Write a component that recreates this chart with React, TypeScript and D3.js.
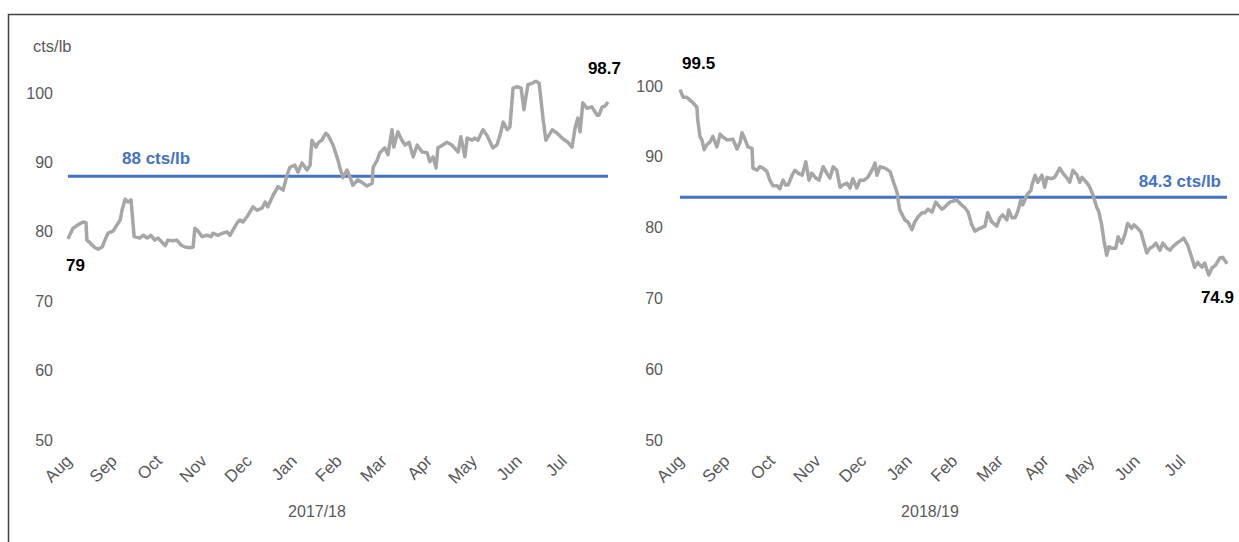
import React from "react";
import { scaleLinear, line, curveLinear } from "d3";

// months since 1 Aug
const months1718 = [
  0, 0.11, 0.22, 0.33, 0.4, 0.42, 0.49, 0.6, 0.67, 0.76, 0.82, 0.89, 1.0, 1.09, 1.16, 1.2, 1.27, 1.33, 1.4,
  1.47, 1.6, 1.67, 1.76, 1.84, 1.93, 2.0, 2.09, 2.16, 2.22, 2.33, 2.42, 2.51, 2.6, 2.71, 2.78, 2.82, 2.89,
  2.98, 3.09, 3.18, 3.22, 3.33, 3.44, 3.53, 3.6, 3.67, 3.76, 3.82, 3.89, 4.0, 4.11, 4.2, 4.31, 4.38, 4.44,
  4.56, 4.67, 4.78, 4.87, 4.93, 5.04, 5.11, 5.2, 5.31, 5.38, 5.42, 5.51, 5.56, 5.64, 5.73, 5.78, 5.89, 6.0,
  6.04, 6.11, 6.2, 6.27, 6.33, 6.44, 6.56, 6.64, 6.76, 6.78, 6.87, 6.93, 7.04, 7.11, 7.2, 7.24, 7.33, 7.42,
  7.49, 7.58, 7.67, 7.76, 7.87, 7.98, 8.04, 8.11, 8.18, 8.22, 8.33, 8.42, 8.53, 8.67, 8.73, 8.82, 8.87,
  8.98, 9.04, 9.11, 9.22, 9.31, 9.44, 9.53, 9.6, 9.67, 9.76, 9.82, 9.89, 9.98, 10.07, 10.13, 10.22, 10.31,
  10.4, 10.47, 10.56, 10.62, 10.76, 10.87, 10.98, 11.04, 11.11, 11.2, 11.27, 11.33, 11.38, 11.44, 11.53,
  11.64, 11.76, 11.8, 11.87, 11.93, 12,
];
const prices1718 = [
  79.0, 80.5, 81, 81.4, 81.3, 78.8, 78.4, 77.7, 77.5, 77.8, 78.8, 79.8, 80.1, 81, 81.7, 83.1, 84.7, 84.3, 84.6,
  79.3, 79.1, 79.5, 79.1, 79.5, 78.8, 79.1, 78.5, 78, 78.8, 78.7, 78.8, 78.1, 77.8, 77.7, 77.8, 80.5, 80.1,
  79.3, 79.5, 79.3, 79.8, 79.5, 79.8, 80, 79.5, 80.3, 81.3, 81.7, 81.4, 82.4, 83.6, 83.1, 83.4, 84.3, 83.6,
  85.3, 86.5, 86, 88.2, 89.3, 89.6, 88.6, 89.9, 88.9, 89.6, 93.2, 92.2, 92.8, 93.2, 94.2, 93.9, 92.5, 90.3,
  89.3, 87.8, 88.9, 87.8, 86.7, 87.5, 87, 86.6, 87, 89.3, 90.3, 91.4, 92.1, 91.1, 94.7, 92.2, 94.4, 93.2,
  92.5, 92.9, 90.8, 92.5, 91.5, 91.4, 90.1, 90.8, 89.2, 92.1, 92.5, 92.9, 92.5, 91.5, 93.7, 90.8, 93.5,
  93.2, 93.5, 93.2, 94.7, 93.9, 92.1, 92.5, 93.9, 95.8, 94.7, 95.1, 100.7, 100.9, 100.7, 97.6, 101.2, 101.4,
  101.7, 101.4, 96.1, 93.2, 94.7, 94.2, 93.5, 93.2, 92.9, 92.2, 95, 96.4, 94.4, 98.6, 97.8,
  98, 96.8, 96.8, 98, 98.1, 98.7,
];

const months1819 = [
  0, 0.07, 0.15, 0.22, 0.29, 0.37, 0.39, 0.44, 0.48, 0.53, 0.59, 0.66, 0.72, 0.81, 0.88, 0.94, 1.03, 1.1,
  1.16, 1.25, 1.32, 1.36, 1.43, 1.49, 1.58, 1.6, 1.69, 1.75, 1.82, 1.91, 1.97, 2.04, 2.13, 2.19, 2.26, 2.32,
  2.37, 2.46, 2.52, 2.59, 2.68, 2.76, 2.83, 2.89, 2.98, 3.05, 3.14, 3.22, 3.29, 3.36, 3.44, 3.51, 3.57, 3.66,
  3.73, 3.79, 3.88, 3.95, 4.04, 4.12, 4.21, 4.28, 4.32, 4.39, 4.5, 4.61, 4.67, 4.76, 4.82, 4.87, 4.93, 5.0,
  5.09, 5.15, 5.22, 5.31, 5.37, 5.44, 5.53, 5.61, 5.66, 5.75, 5.81, 5.92, 6.07, 6.18, 6.25, 6.32, 6.4, 6.47,
  6.58, 6.69, 6.75, 6.84, 6.95, 7.02, 7.08, 7.17, 7.21, 7.28, 7.35, 7.41, 7.48, 7.52, 7.61, 7.7, 7.72, 7.79,
  7.85, 7.94, 8.0, 8.05, 8.14, 8.22, 8.33, 8.4, 8.49, 8.55, 8.62, 8.71, 8.77, 8.82, 8.93, 8.99, 9.06, 9.14,
  9.19, 9.25, 9.3, 9.36, 9.41, 9.47, 9.56, 9.61, 9.69, 9.76, 9.82, 9.91, 9.96, 10.04, 10.11, 10.18, 10.24,
  10.31, 10.37, 10.44, 10.53, 10.59, 10.68, 10.75, 10.81, 10.9, 10.99, 11.05, 11.14, 11.23, 11.29, 11.36,
  11.45, 11.51, 11.6, 11.67, 11.75, 11.84, 11.91, 12,
];
const prices1819 = [
  99.5, 98.4, 98.4, 98.0, 97.6, 97.0, 95.2, 92.8, 92.4, 91.0, 91.7, 92.1, 92.9, 91.4, 93.2, 92.8, 92.4, 92.4,
  92.5, 91.1, 92.1, 93.4, 92.4, 91.4, 91.2, 88.4, 88.1, 88.6, 88.4, 87.9, 86.7, 85.9, 85.9, 85.5, 86.7, 86.0,
  86.0, 87.4, 88.1, 87.7, 87.4, 89.3, 86.7, 87.7, 87.0, 86.7, 88.6, 87.7, 87.0, 88.6, 88.1, 85.7, 86.0, 86.3,
  85.6, 86.9, 85.6, 86.7, 86.7, 87.1, 88.1, 89.1, 87.4, 88.6, 88.4, 87.9, 86.7, 85.0, 82.5, 81.9, 81.1, 80.8,
  79.7, 80.8, 81.5, 82.1, 82.1, 82.6, 82.2, 83.6, 83.2, 82.6, 82.9, 83.6, 83.9, 83.2, 82.8, 82.2, 80.4, 79.5,
  79.9, 80.2, 82.1, 80.8, 80.2, 81.4, 81.8, 81.1, 82.5, 81.4, 81.4, 82.3, 83.9, 83.2, 84.6, 85.3, 86.0, 87.4,
  86.4, 87.4, 85.7, 87.1, 86.9, 87.1, 88.4, 87.7, 87.0, 86.4, 88.1, 87.4, 86.4, 87.1, 86.3, 85.7, 84.6, 82.9,
  82.2, 80.4, 78.2, 76.1, 77.3, 77.1, 77.1, 78.7, 77.8, 79.0, 80.6, 79.9, 80.4, 79.9, 79.4, 77.8, 76.4,
  77.1, 77.3, 77.8, 76.8, 77.8, 77.1, 76.8, 77.3, 77.8, 78.2, 78.5, 77.5, 75.7, 74.4, 75.1,
  74.4, 75.0, 73.3, 74.3, 74.7, 75.7, 75.8, 74.9,
];

const monthLabels = ["Aug", "Sep", "Oct", "Nov", "Dec", "Jan", "Feb", "Mar", "Apr", "May", "Jun", "Jul"];
const yTicks = [50, 60, 70, 80, 90, 100];
const averages = [88, 84.3];
const seasons = ["2017/18", "2018/19"];

const FONT = "'Liberation Sans', Arial, sans-serif";
const GRAY_TEXT = "#595959";
const LINE_GRAY = "#a6a6a6";
const BLUE = "#4472c4";

type PanelProps = {
  months: number[];
  prices: number[];
  avg: number;
  season: string;
  xRange: [number, number];
  yRange: [number, number];
  labelX: number;
  seasonX: number;
  avgLabel: { x: number; y: number; anchor: string };
  first: { x: number; y: number; anchor: string } | null;
  last: { x: number; y: number; anchor: string } | null;
};

const Panel = ({ months, prices, avg, season, xRange, yRange, labelX, seasonX, avgLabel, first, last }: PanelProps) => {
  const x = scaleLinear().domain([0, 12]).range(xRange);
  const y = scaleLinear().domain([50, 100]).range(yRange);
  const pts = months.map((m, i) => [x(m), y(prices[i])] as [number, number]);
  const path = line().curve(curveLinear)(pts) || "";

  return (
    <g>
      {yTicks.map((t) => (
        <text key={t} x={labelX} y={y(t)} dy="0.35em" textAnchor="end" fontSize={16} fill={GRAY_TEXT}>
          {t}
        </text>
      ))}
      {monthLabels.map((m, i) => (
        <text
          key={m}
          transform={`translate(${x(i) + 5},${462}) rotate(-45)`}
          textAnchor="end"
          fontSize={17}
          fill={GRAY_TEXT}
        >
          {m}
        </text>
      ))}
      <text x={seasonX} y={517} textAnchor="middle" fontSize={16} fill={GRAY_TEXT}>
        {season}
      </text>
      <line x1={x(0)} x2={x(12)} y1={y(avg)} y2={y(avg)} stroke={BLUE} strokeWidth={3} />
      <path d={path} fill="none" stroke={LINE_GRAY} strokeWidth={3.5} strokeLinejoin="round" />
      <text x={avgLabel.x} y={avgLabel.y} textAnchor={avgLabel.anchor} fontSize={17} fontWeight="bold" fill={BLUE}>
        {`${avg} cts/lb`}
      </text>
      {first && (
        <text x={first.x} y={first.y} textAnchor={first.anchor} fontSize={17} fontWeight="bold" fill="#000">
          {prices[0]}
        </text>
      )}
      {last && (
        <text x={last.x} y={last.y} textAnchor={last.anchor} fontSize={17} fontWeight="bold" fill="#000">
          {prices[prices.length - 1]}
        </text>
      )}
    </g>
  );
};

export default function App() {
  return (
    <svg
      width={1239}
      height={542}
      style={{ position: "absolute", left: 0, top: 0, background: "#fff", fontFamily: FONT }}
    >
      <path d="M8.5,542 V14.5 H1239" fill="none" stroke="#404040" strokeWidth={1.5} />
      <text x={33} y={52} fontSize={16.5} fill={GRAY_TEXT}>
        cts/lb
      </text>
      <Panel
        months={months1718}
        prices={prices1718}
        avg={averages[0]}
        season={seasons[0]}
        xRange={[68, 608]}
        yRange={[440, 93]}
        labelX={53}
        seasonX={317}
        avgLabel={{ x: 122, y: 164, anchor: "start" }}
        first={{ x: 66, y: 271, anchor: "start" }}
        last={{ x: 621, y: 74, anchor: "end" }}
      />
      <Panel
        months={months1819}
        prices={prices1819}
        avg={averages[1]}
        season={seasons[1]}
        xRange={[680, 1227]}
        yRange={[440, 86]}
        labelX={663}
        seasonX={930}
        avgLabel={{ x: 1221, y: 187, anchor: "end" }}
        first={{ x: 682, y: 69, anchor: "start" }}
        last={{ x: 1234, y: 303, anchor: "end" }}
      />
    </svg>
  );
}
